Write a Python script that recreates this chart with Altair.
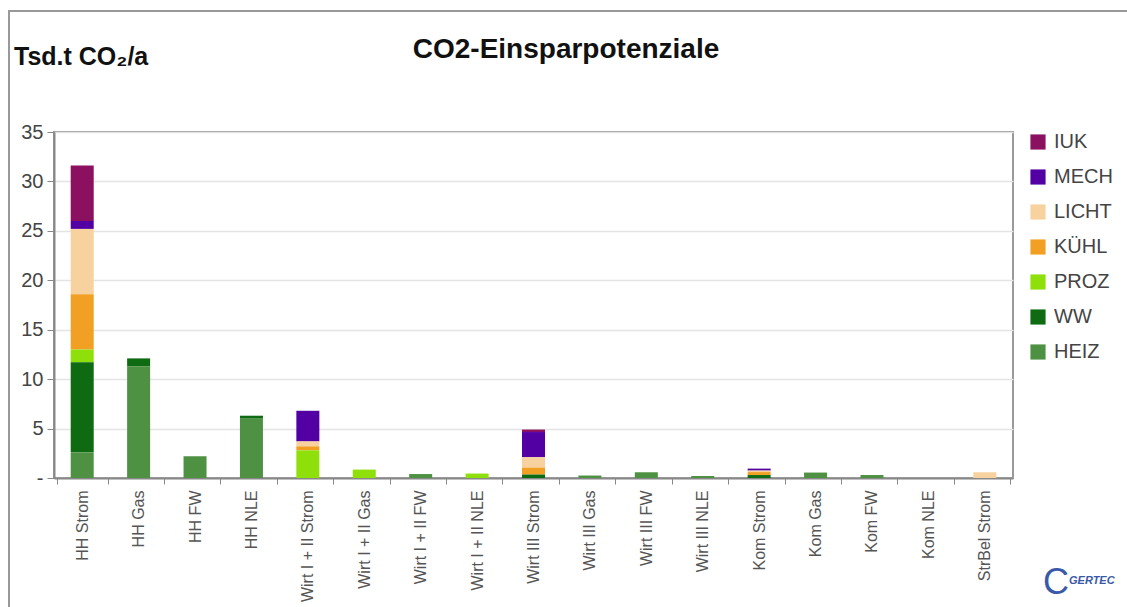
import altair as alt
import pandas as pd

# Savings potential per sector / energy carrier, thousand tonnes CO2 per year
categories = [
    "HH Strom", "HH Gas", "HH FW", "HH NLE",
    "Wirt I + II Strom", "Wirt I + II Gas", "Wirt I + II FW", "Wirt I + II NLE",
    "Wirt III Strom", "Wirt III Gas", "Wirt III FW", "Wirt III NLE",
    "Kom Strom", "Kom Gas", "Kom FW", "Kom NLE", "StrBel Strom",
]

heiz = [2.6, 11.3, 2.2, 6.0, 0, 0, 0.4, 0, 0, 0.25, 0.58, 0.2, 0, 0.55, 0.3, 0, 0]
ww = [9.1, 0.8, 0, 0.3, 0, 0, 0, 0, 0.35, 0, 0, 0, 0.3, 0, 0, 0, 0]
proz = [1.3, 0, 0, 0, 2.8, 0.85, 0, 0.45, 0, 0, 0, 0, 0, 0, 0, 0, 0]
kuehl = [5.6, 0, 0, 0, 0.4, 0, 0, 0, 0.7, 0, 0, 0, 0.3, 0, 0, 0, 0]
licht = [6.6, 0, 0, 0, 0.5, 0, 0, 0, 1.05, 0, 0, 0, 0.15, 0, 0, 0, 0.58]
mech = [0.8, 0, 0, 0, 3.1, 0, 0, 0, 2.55, 0, 0, 0, 0.2, 0, 0, 0, 0]
iuk = [5.6, 0, 0, 0, 0, 0, 0, 0, 0.25, 0, 0, 0, 0, 0, 0, 0, 0]

series_names = ["IUK", "MECH", "LICHT", "KÜHL", "PROZ", "WW", "HEIZ"]
series_values = [iuk, mech, licht, kuehl, proz, ww, heiz]
series_colors = ["#8c1060", "#5200a3", "#f7d29e", "#f2a024", "#8fdf0a", "#0f6b12", "#4e9142"]

rows = []
for s_idx, (name, vals) in enumerate(zip(series_names, series_values)):
    for cat, v in zip(categories, vals):
        if v > 0:
            rows.append({"Kategorie": cat, "Bereich": name, "Wert": v,
                         "Reihenfolge": len(series_names) - s_idx})
df = pd.DataFrame(rows)

FONT = "Liberation Sans"
W, H = 959, 346
PAD_L, PAD_T = 54, 132

bars = alt.Chart(df).mark_bar(size=23).encode(
    x=alt.X("Kategorie:N", sort=categories, title=None,
            scale=alt.Scale(domain=categories),
            axis=alt.Axis(labelAngle=-90, labelAlign="right", labelBaseline="middle",
                          labelFont=FONT, labelFontSize=16, labelColor="#555555",
                          labelPadding=6, tickBand="extent", tickSize=6,
                          tickColor="#888888", domainColor="#888888", domainWidth=2,
                          grid=False, labelOverlap=False)),
    y=alt.Y("Wert:Q", stack="zero", title=None,
            scale=alt.Scale(domain=[0, 35], nice=False),
            axis=alt.Axis(values=[0, 5, 10, 15, 20, 25, 30, 35],
                          labelExpr="datum.value == 0 ? '-' : datum.label",
                          labelFont=FONT, labelFontSize=20, labelColor="#444444",
                          labelPadding=4, tickSize=7, tickColor="#888888",
                          domainColor="#888888", domainWidth=2,
                          grid=True, gridColor="#e4e4e4", gridWidth=1.5)),
    color=alt.Color("Bereich:N",
                    scale=alt.Scale(domain=series_names, range=series_colors),
                    legend=alt.Legend(title=None, orient="none", legendX=974, legendY=0,
                                      symbolType="square", symbolSize=230,
                                      symbolStrokeWidth=0, labelFont=FONT,
                                      labelFontSize=20, labelColor="#444444",
                                      labelOffset=6, rowPadding=15)),
    order=alt.Order("Reihenfolge:Q", sort="ascending"),
)

title_df = pd.DataFrame({"t": ["CO2-Einsparpotenziale"]})
title = alt.Chart(title_df).mark_text(font=FONT, fontSize=28, fontWeight="bold",
                                      color="#111111", align="center", baseline="middle").encode(
    text="t:N", x=alt.value(566 - PAD_L), y=alt.value(50 - PAD_T))

ytitle_df = pd.DataFrame({"t": ["Tsd.t CO₂/a"]})
ytitle = alt.Chart(ytitle_df).mark_text(font=FONT, fontSize=25, fontWeight="bold",
                                        color="#111111", align="left", baseline="middle").encode(
    text="t:N", x=alt.value(14 - PAD_L), y=alt.value(57 - PAD_T))

# outer frame around the whole figure
frame = alt.Chart(pd.DataFrame({"f": [1]})).mark_rect(
    fill=None, stroke="#999999", strokeWidth=2).encode(
    x=alt.value(9 - PAD_L), x2=alt.value(1140 - PAD_L),
    y=alt.value(11 - PAD_T), y2=alt.value(620 - PAD_T))

# company mark in the lower right corner
logo_c = alt.Chart(pd.DataFrame({"t": ["C"]})).mark_text(
    font=FONT, fontSize=36, color="#3a5aa8", align="center", baseline="middle").encode(
    text="t:N", x=alt.value(1056 - PAD_L), y=alt.value(583 - PAD_T))
logo_t = alt.Chart(pd.DataFrame({"t": ["GERTEC"]})).mark_text(
    font=FONT, fontSize=11, fontWeight="bold", fontStyle="italic", color="#3a5aa8",
    align="left", baseline="middle").encode(
    text="t:N", x=alt.value(1069 - PAD_L), y=alt.value(581 - PAD_T))

chart = alt.layer(frame, bars, title, ytitle, logo_c, logo_t).properties(
    width=W, height=H,
    autosize=alt.AutoSizeParams(type="none"),
    padding={"left": PAD_L, "top": PAD_T, "right": 1127 - PAD_L - W, "bottom": 607 - PAD_T - H},
    background="white",
).configure_view(stroke="#999999", strokeWidth=2)

chart.save("out.html", embed_options={"renderer": "svg", "actions": False})
